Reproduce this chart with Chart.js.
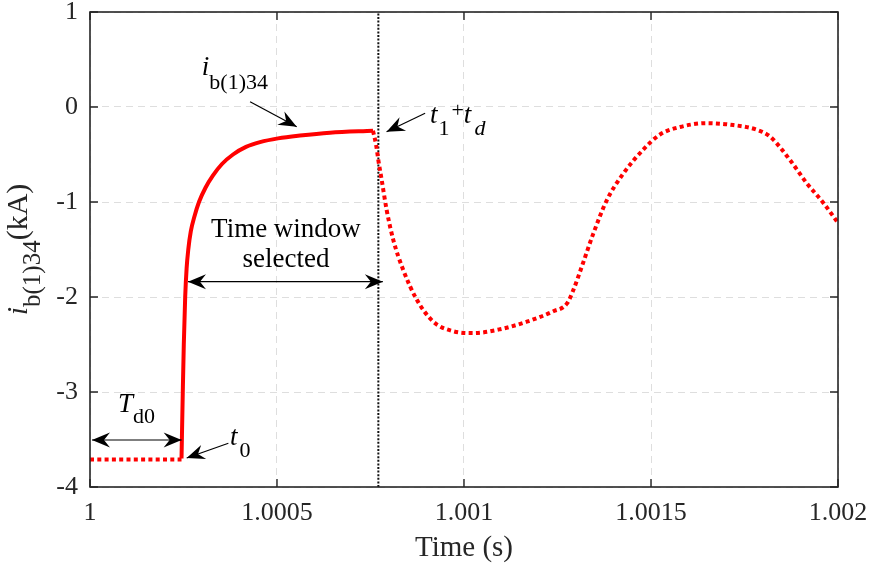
<!DOCTYPE html>
<html>
<head>
<meta charset="utf-8">
<script src="https://cdn.jsdelivr.net/npm/chart.js@4.4.1/dist/chart.umd.min.js"></script>
<style>
  html, body { margin: 0; padding: 0; background: #ffffff; }
  #wrap { width: 873px; height: 567px; }
</style>
</head>
<body>
<div id="wrap"><canvas id="c" width="873" height="567"></canvas></div>
<script>
// ---------------- data ----------------
const xTickValues = [1, 1.0005, 1.001, 1.0015, 1.002];
const yTickValues = [-4, -3, -2, -1, 0, 1];

// before t0 (dotted)
const timePre = [1.0, 1.0002447];
const currentPre = [-3.71, -3.71];

// selected time window (solid)
const timeWindow = [1.0002447, 1.0002481, 1.0002508, 1.0002545, 1.0002583, 1.0002628, 1.0002695,
  1.0002794, 1.0002914, 1.0003088, 1.0003289, 1.0003529, 1.0003824, 1.0004171, 1.0004545,
  1.0005027, 1.0005615, 1.0006417, 1.0007567];
const currentWindow = [-3.70, -3.00, -2.50, -2.00, -1.70, -1.50, -1.31,
  -1.15, -1.00, -0.85, -0.72, -0.60, -0.50, -0.42, -0.37,
  -0.33, -0.30, -0.27, -0.25];

// after t1+td (dotted)
const timePost = [1.0007567, 1.000765, 1.000771, 1.00078, 1.000793, 1.000811, 1.000838, 1.000874,
  1.000918, 1.000971, 1.001025, 1.001096, 1.001168, 1.001239, 1.001275, 1.001292, 1.001315,
  1.001346, 1.001382, 1.001426, 1.001479, 1.001524, 1.001578, 1.001649, 1.00172, 1.001783,
  1.001818, 1.001872, 1.001916, 1.001961, 1.002];
const currentPost = [-0.25, -0.40, -0.56, -0.77, -1.08, -1.40, -1.72, -2.03,
  -2.26, -2.36, -2.38, -2.34, -2.26, -2.15, -2.07, -1.93, -1.68,
  -1.33, -0.98, -0.70, -0.45, -0.29, -0.21, -0.17, -0.19, -0.24,
  -0.31, -0.56, -0.80, -1.01, -1.22];

// t1 + td marker
const markerTime = [1.000771, 1.000771];
const markerRange = [-4, 1];

const xTitle = 'Time (s)';

// ---------------- helpers ----------------
const toXY = (xs, ys) => xs.map((x, i) => ({ x: x, y: ys[i] }));
const FONT = '"Liberation Serif", "Times New Roman", serif';
const AXIS_COLOR = '#262626';

function drawRich(ctx, x, y, parts, o) {
  const M = o.main, S = o.sub, subDy = o.subDy, supDy = o.supDy || 10;
  const fontOf = p => (p.it ? 'italic ' : '') + ((p.sub || p.sup) ? S : M) + 'px ' + FONT;
  let w = 0;
  parts.forEach(p => { ctx.font = fontOf(p); w += ctx.measureText(p.t).width + (p.gap || 0); });
  let cx = x;
  if (o.align === 'center') cx = x - w / 2;
  ctx.textAlign = 'left';
  ctx.textBaseline = 'alphabetic';
  parts.forEach(p => {
    ctx.font = fontOf(p);
    const dy = p.sub ? subDy : (p.sup ? -supDy : 0);
    ctx.fillText(p.t, cx, y + dy);
    cx += ctx.measureText(p.t).width + (p.gap || 0);
  });
  return w;
}

function arrowHead(ctx, fx, fy, tx, ty) {
  const L = 18, H = 7.5, N = 6;
  const a = Math.atan2(ty - fy, tx - fx);
  const c = Math.cos(a), s = Math.sin(a);
  const pt = (u, v) => [tx - u * c + v * s, ty - u * s - v * c];
  const b1 = pt(L, H), b2 = pt(L, -H), n = pt(L - N, 0);
  ctx.beginPath();
  ctx.moveTo(tx, ty);
  ctx.lineTo(b1[0], b1[1]);
  ctx.lineTo(n[0], n[1]);
  ctx.lineTo(b2[0], b2[1]);
  ctx.closePath();
  ctx.fill();
}

// annotations in data coordinates
const arrows = [
  { from: [1.000428, 0.056], to: [1.0005527, -0.207], both: false },
  { from: [1.000896, -0.066], to: [1.000793, -0.26], both: false },
  { from: [1.000783, -1.839], to: [1.000262, -1.839], both: true },
  { from: [1.000245, -3.505], to: [1.0000053, -3.505], both: true },
  { from: [1.00037, -3.54], to: [1.0002585, -3.695], both: false }
];
const labels = [
  { at: [1.000299, 0.337], parts: [{ t: 'i', it: true }, { t: 'b(1)34', sub: true }], subDy: 14 },
  { at: [1.000909, -0.168], parts: [{ t: 't', it: true, gap: 1 }, { t: '1', sub: true, gap: 2 }, { t: '+', sup: true },
      { t: 't', it: true, gap: 3 }, { t: 'd', it: true, sub: true }], subDy: 12 },
  { at: [1.000524, -1.365], parts: [{ t: 'Time window' }], align: 'center' },
  { at: [1.000524, -1.681], parts: [{ t: 'selected' }], align: 'center' },
  { at: [1.0000749, -3.21], parts: [{ t: 'T', it: true }, { t: 'd0', sub: true }], subDy: 11 },
  { at: [1.000374, -3.558], parts: [{ t: 't', it: true, gap: 2 }, { t: '0', sub: true }], subDy: 12 }
];

const overlay = {
  id: 'overlay',
  afterDatasetsDraw(chart) {
    const ctx = chart.ctx;
    const xs = chart.scales.x, ys = chart.scales.y;
    const a = chart.chartArea;
    ctx.save();
    // frame
    ctx.strokeStyle = AXIS_COLOR;
    ctx.lineWidth = 1.6;
    ctx.setLineDash([]);
    ctx.strokeRect(a.left, a.top, a.right - a.left, a.bottom - a.top);
    // inward ticks
    ctx.lineWidth = 1.4;
    ctx.beginPath();
    const T = 8;
    xTickValues.forEach(v => {
      const px = xs.getPixelForValue(v);
      ctx.moveTo(px, a.bottom); ctx.lineTo(px, a.bottom - T);
      ctx.moveTo(px, a.top); ctx.lineTo(px, a.top + T);
    });
    yTickValues.forEach(v => {
      const py = ys.getPixelForValue(v);
      ctx.moveTo(a.left, py); ctx.lineTo(a.left + T, py);
      ctx.moveTo(a.right, py); ctx.lineTo(a.right - T, py);
    });
    ctx.stroke();

    // arrows
    ctx.strokeStyle = '#000';
    ctx.fillStyle = '#000';
    ctx.lineWidth = 1.2;
    arrows.forEach(ar => {
      const fx = xs.getPixelForValue(ar.from[0]), fy = ys.getPixelForValue(ar.from[1]);
      const tx = xs.getPixelForValue(ar.to[0]), ty = ys.getPixelForValue(ar.to[1]);
      ctx.beginPath(); ctx.moveTo(fx, fy); ctx.lineTo(tx, ty); ctx.stroke();
      arrowHead(ctx, fx, fy, tx, ty);
      if (ar.both) arrowHead(ctx, tx, ty, fx, fy);
    });

    // labels
    ctx.fillStyle = '#000';
    labels.forEach(lb => {
      const px = xs.getPixelForValue(lb.at[0]), py = ys.getPixelForValue(lb.at[1]);
      drawRich(ctx, px, py, lb.parts, { main: 27, sub: 22, subDy: lb.subDy || 12, supDy: 6, align: lb.align });
    });

    // y-axis title (rotated, with subscript)
    ctx.fillStyle = AXIS_COLOR;
    ctx.translate(27, (a.top + a.bottom) / 2);
    ctx.rotate(-Math.PI / 2);
    drawRich(ctx, 0, 0, [{ t: 'i', it: true }, { t: 'b(1)34', sub: true }, { t: '(kA)' }],
      { main: 30, sub: 25, subDy: 13, align: 'center' });
    ctx.restore();
  }
};

const redDot = [4, 3.3];

new Chart(document.getElementById('c'), {
  type: 'line',
  data: {
    datasets: [
      { data: toXY(timePre, currentPre), borderColor: '#ff0000', borderWidth: 4, borderDash: redDot,
        borderCapStyle: 'butt', pointRadius: 0, tension: 0 },
      { data: toXY(timeWindow, currentWindow), borderColor: '#ff0000', borderWidth: 4,
        cubicInterpolationMode: 'monotone', pointRadius: 0, borderJoinStyle: 'round' },
      { data: toXY(timePost, currentPost), borderColor: '#ff0000', borderWidth: 4, borderDash: redDot,
        borderCapStyle: 'butt', cubicInterpolationMode: 'monotone', pointRadius: 0 },
      { data: toXY(markerTime, markerRange), borderColor: '#111111', borderWidth: 2, borderDash: [2, 1.6],
        pointRadius: 0, tension: 0 }
    ]
  },
  options: {
    responsive: false,
    animation: false,
    devicePixelRatio: 1,
    layout: { padding: { left: 0, right: 35, top: 12, bottom: 0 } },
    plugins: { legend: { display: false }, tooltip: { enabled: false } },
    scales: {
      x: {
        type: 'linear', min: 1, max: 1.002,
        afterBuildTicks: s => { s.ticks = xTickValues.map(v => ({ value: v })); },
        afterFit: s => { s.height = 80; s.paddingLeft = 0; s.paddingRight = 0; },
        ticks: {
          padding: 11, color: AXIS_COLOR, maxRotation: 0, autoSkip: false,
          font: { family: FONT, size: 26 },
          callback: v => String(Number(v.toFixed(4)))
        },
        grid: { color: '#dedede', lineWidth: 1, drawTicks: false },
        border: { display: false, dash: [7, 5] },
        title: { display: true, text: xTitle, color: AXIS_COLOR, font: { family: FONT, size: 29 },
          padding: { top: 0, bottom: 1 } }
      },
      y: {
        type: 'linear', min: -4, max: 1,
        afterBuildTicks: s => { s.ticks = yTickValues.map(v => ({ value: v })); },
        afterFit: s => { s.width = 90; s.paddingTop = 0; s.paddingBottom = 0; },
        ticks: {
          padding: 12, color: AXIS_COLOR,
          font: { family: FONT, size: 26 },
          callback: v => String(v)
        },
        grid: { color: '#dedede', lineWidth: 1, drawTicks: false },
        border: { display: false, dash: [7, 5] }
      }
    }
  },
  plugins: [overlay]
});
</script>
</body>
</html>
